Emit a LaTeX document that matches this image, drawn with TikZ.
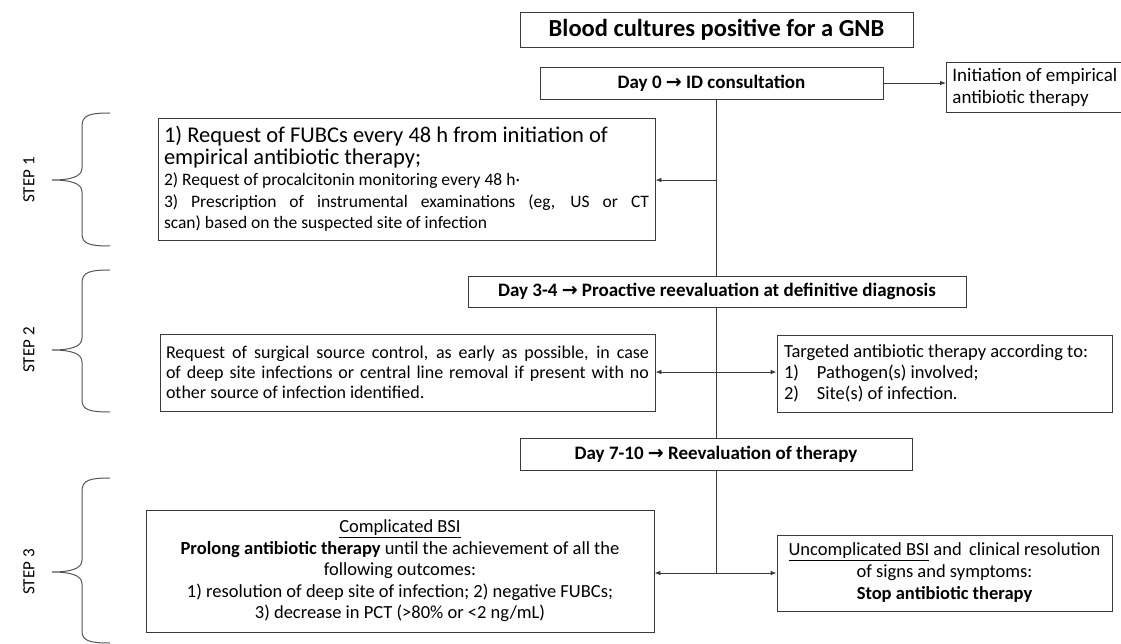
\documentclass[tikz,border=0pt]{standalone}
\usepackage{fontspec}
\setmainfont{Carlito}
\newfontfamily\symfont{DejaVu Sans}
\usetikzlibrary{arrows.meta}
\definecolor{bdr}{HTML}{3A3A3A}
\definecolor{brc}{HTML}{555555}
\newcommand{\arr}{{\symfont\bfseries\fontsize{19}{19}\selectfont →}}
\newcommand{\nsp}{\spaceskip=\fontdimen2\font\xspaceskip=\fontdimen2\font\relax}
\newcommand{\jline}[2]{\makebox[#1][s]{\spaceskip=0pt\xspaceskip=0pt\relax #2}}
\tikzset{
  box/.style={draw=bdr, line width=0.8pt, inner sep=0pt, font=\fontsize{18}{21}\selectfont},
  daybox/.style={box, font=\bfseries\fontsize{19}{21}\selectfont},
  arrowline/.style={draw=bdr, line width=0.8pt},
  tip/.style={arrowline, -{Latex[length=6pt,width=4.5pt]}},
  brace/.style={draw=brc, line width=1pt},
  steplabel/.style={rotate=90, font=\fontsize{17}{17}\selectfont}
}
\begin{document}
\begin{tikzpicture}[x=1pt,y=-1pt]
\useasboundingbox (0,0) rectangle (1121,644);

\node[box, minimum width=393pt, minimum height=35pt, font=\bfseries\fontsize{24.5}{26}\selectfont] (title) at (716.5,29.5) {Blood cultures positive for a GNB};

\node[daybox, minimum width=343pt, minimum height=32pt] (day0) at (711.5,83) {Day 0 \arr{} ID consultation};

\node[box, anchor=west, minimum width=180pt, minimum height=50pt, text width=168pt, align=left, font=\fontsize{19}{22}\selectfont] (init) at (946,87) {\nsp Initiation of empirical\\antibiotic therapy};

\node[box, minimum width=497pt, minimum height=122pt, text width=485pt, align=left, font=\fontsize{17.5}{21.5}\selectfont] (s1) at (406.5,179) {{\fontsize{22.5}{21.5}\selectfont\nsp 1) Request of FUBCs every 48 h from initiation of\\ empirical antibiotic therapy;}\\ \nsp 2) Request of procalcitonin monitoring every 48 h·\\ \jline{485pt}{3) Prescription of instrumental examinations (eg, US or CT}\\ scan) based on the suspected site of infection};

\node[daybox, minimum width=498pt, minimum height=31pt] (day34) at (717,291.5) {Day 3-4 \arr{} Proactive reevaluation at definitive diagnosis};

\node[box, minimum width=495pt, minimum height=77pt, text width=483pt, align=left, font=\fontsize{18}{20}\selectfont] (s2l) at (407.5,372.5) {\nsp\jline{483pt}{Request of surgical source control, as early as possible, in case}\\ \jline{483pt}{of deep site infections or central line removal if present with no}\\ other source of infection identified.};

\node[box, minimum width=335pt, minimum height=77pt, text width=321pt, align=left, font=\fontsize{18.5}{21}\selectfont] (s2r) at (944.5,373.5) {\nsp Targeted antibiotic therapy according to:\\ \makebox[33pt][l]{1)}Pathogen(s) involved;\\ \makebox[33pt][l]{2)}Site(s) of infection.};

\node[daybox, minimum width=392pt, minimum height=32pt] (day710) at (716,454) {Day 7-10 \arr{} Reevaluation of therapy};

\node[box, minimum width=508pt, minimum height=122pt, text width=494pt, align=center, font=\fontsize{18.5}{21.5}\selectfont] (s3l) at (400,571) {\nsp\underline{Complicated BSI}\\ \textbf{Prolong antibiotic therapy} until the achievement of all the\\ following outcomes:\\ 1) resolution of deep site of infection; 2) negative FUBCs;\\ 3) decrease in PCT (>80\% or <2 ng/mL)};

\node[box, minimum width=335pt, minimum height=76pt, text width=321pt, align=center, font=\fontsize{18.5}{22}\selectfont] (s3r) at (944.5,573) {\nsp\underline{Uncomplicated BSI} and\, clinical resolution\\ of signs and symptoms:\\ \textbf{Stop antibiotic therapy}};

\coordinate (a1) at (716,180);
\coordinate (a2) at (716,372);
\coordinate (a3) at (716,573);

\draw[tip] (day0.east) -- (day0.east -| init.west);
\draw[arrowline] (day0.south -| a1) -- (day34.north -| a1);
\draw[tip] (a1) -- (a1 -| s1.east);
\draw[arrowline] (day34.south -| a2) -- (day710.north -| a2);
\draw[tip] (a2) -- (a2 -| s2l.east);
\draw[tip] (a2) -- (a2 -| s2r.west);
\draw[arrowline] (day710.south -| a3) -- (a3);
\draw[tip] (a3) -- (a3 -| s3l.east);
\draw[tip] (a3) -- (a3 -| s3r.west);

\node[steplabel] (st1) at (29,180) {STEP 1};
\node[steplabel] (st2) at (29,350) {STEP 2};
\node[steplabel] (st3) at (29,572) {STEP 3};

\draw[brace] (110,113) .. controls (90,113) and (82,115) .. (82,126) -- (82,168) .. controls (82,177) and (70,180) .. (52,180) .. controls (70,180) and (82,183) .. (82,192) -- (82,234) .. controls (82,244) and (90,246) .. (110,246);
\draw[brace] (110,270) .. controls (90,270) and (82,272) .. (82,283) -- (82,338) .. controls (82,347) and (70,350) .. (52,350) .. controls (70,350) and (82,353) .. (82,362) -- (82,400) .. controls (82,410) and (90,412) .. (110,412);
\draw[brace] (110,478) .. controls (90,478) and (82,480) .. (82,491) -- (82,560) .. controls (82,569) and (70,572) .. (52,572) .. controls (70,572) and (82,575) .. (82,584) -- (82,631) .. controls (82,641) and (90,643) .. (110,643);
\end{tikzpicture}
\end{document}
